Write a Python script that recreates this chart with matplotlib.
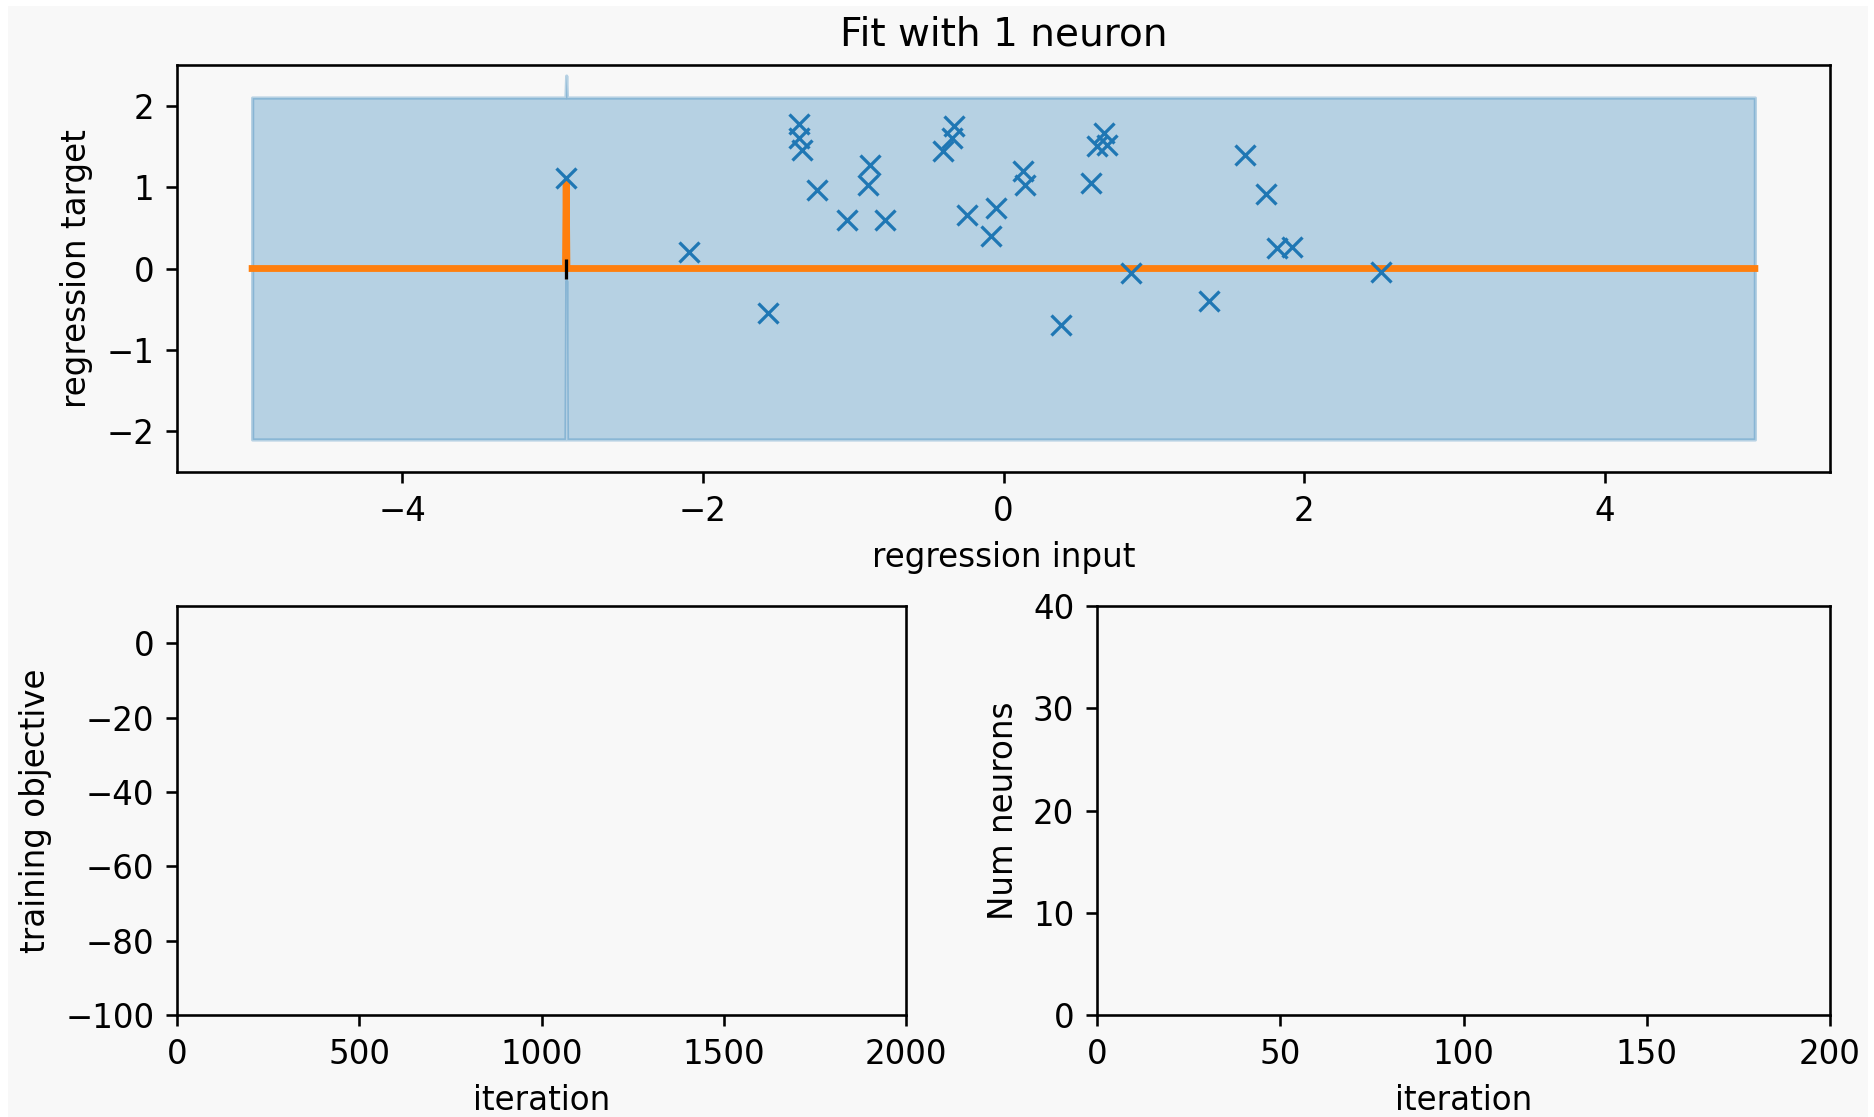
import matplotlib
matplotlib.use("Agg")
import matplotlib.pyplot as plt
from matplotlib.patches import Rectangle

# Training data (regression input, regression target)
train_x = [-2.91, -2.09, -1.57, -1.36, -1.36, -1.34, -1.24, -1.04, -0.89, -0.90,
           -0.79, -0.33, -0.34, -0.40, -0.24, -0.05, -0.08, 0.13, 0.14, 0.38,
           0.58, 0.62, 0.67, 0.69, 0.85, 1.37, 1.61, 1.75, 1.82, 1.92, 2.51]
train_y = [1.11, 0.20, -0.55, 1.77, 1.60, 1.46, 0.97, 0.59, 1.27, 1.02,
           0.59, 1.75, 1.60, 1.44, 0.66, 0.74, 0.40, 1.20, 1.03, -0.69,
           1.05, 1.50, 1.67, 1.52, -0.05, -0.40, 1.40, 0.91, 0.25, 0.27, -0.04]

# Predictive mean and +/- 2 std band of the single-neuron fit
pred_x = [-5.0, -2.915, -2.91, -2.905, 5.0]
pred_mean = [0.0, 0.0, 1.05, 0.0, 0.0]
pred_upper = [2.1, 2.1, 2.37, 2.1, 2.1]
pred_lower = [-2.1, -2.1, -0.15, -2.1, -2.1]

# Neuron location(s)
neuron_x = [-2.91]
neuron_y = [0.0]

# Training curves (empty at this stage)
objective_iter = []
objective_vals = []
neuron_iter = []
neuron_counts = []

W, H = 1874, 1117
DPI = 234
bg = "#f8f8f8"

fig = plt.figure(figsize=(W / DPI, H / DPI), dpi=DPI, facecolor="white")
fig.patches.append(Rectangle((8 / W, 0), (1868 - 8) / W, (H - 6) / H,
                             transform=fig.transFigure, facecolor=bg,
                             edgecolor="none", zorder=-10))

ax_fit = fig.add_axes([177 / W, 1 - 472 / H, (1830 - 177) / W, (472 - 65) / H])
ax_obj = fig.add_axes([177 / W, 1 - 1015 / H, (906 - 177) / W, (1015 - 606) / H])
ax_num = fig.add_axes([1097 / W, 1 - 1015 / H, (1830 - 1097) / W, (1015 - 606) / H])

for ax in (ax_fit, ax_obj, ax_num):
    ax.set_facecolor(bg)

ax_fit.fill_between(pred_x, pred_lower, pred_upper, color="C0", alpha=0.3)
ax_fit.plot(pred_x, pred_mean, color="C1", lw=2.1)
ax_fit.plot(train_x, train_y, "x", color="C0")
ax_fit.plot(neuron_x, neuron_y, "k|")
ax_fit.set_xlim(-5.5, 5.5)
ax_fit.set_ylim(-2.5, 2.5)
ax_fit.set_xticks([-4, -2, 0, 2, 4])
ax_fit.set_yticks([-2, -1, 0, 1, 2])
ax_fit.set_xlabel("regression input")
ax_fit.set_ylabel("regression target")
ax_fit.set_title("Fit with 1 neuron")

ax_obj.plot(objective_iter, objective_vals, color="C0")
ax_obj.set_xlim(0, 2000)
ax_obj.set_ylim(-100, 10)
ax_obj.set_xticks([0, 500, 1000, 1500, 2000])
ax_obj.set_yticks([0, -20, -40, -60, -80, -100])
ax_obj.set_xlabel("iteration")
ax_obj.set_ylabel("training objective")

ax_num.plot(neuron_iter, neuron_counts, color="C0")
ax_num.set_xlim(0, 200)
ax_num.set_ylim(0, 40)
ax_num.set_xticks([0, 50, 100, 150, 200])
ax_num.set_yticks([0, 10, 20, 30, 40])
ax_num.set_xlabel("iteration")
ax_num.set_ylabel("Num neurons")

fig.savefig("out.png", dpi=DPI, facecolor=fig.get_facecolor())
